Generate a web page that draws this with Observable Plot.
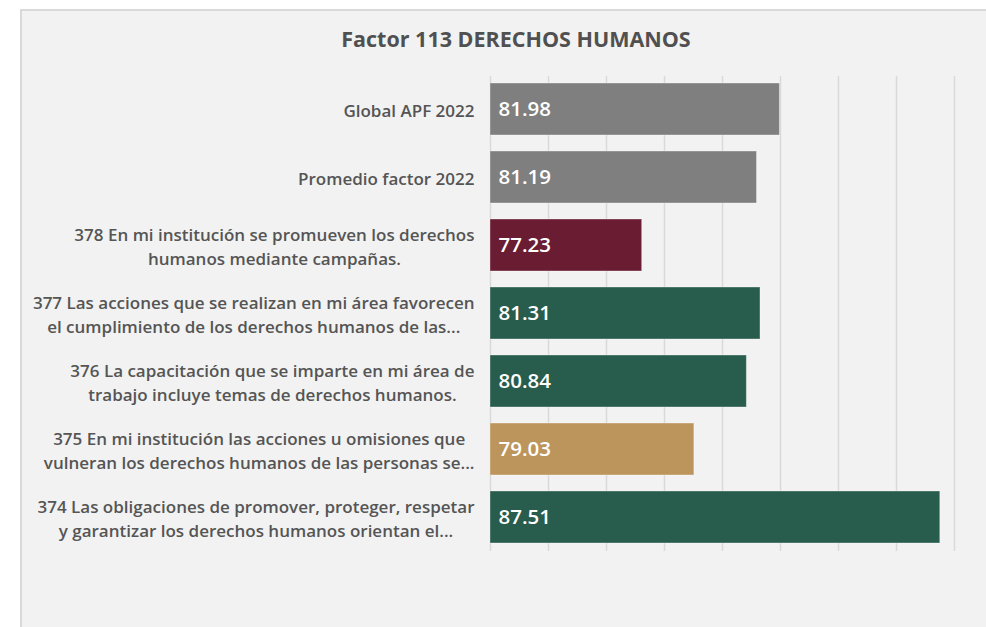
<!DOCTYPE html>
<html>
<head>
<meta charset="utf-8">
<script src="https://cdn.jsdelivr.net/npm/d3@7"></script>
<script src="https://cdn.jsdelivr.net/npm/@observablehq/plot@0.6"></script>
<style>
  html, body { margin: 0; padding: 0; background: #ffffff; width: 986px; height: 627px; overflow: hidden; }
  #panel { position: absolute; left: 20px; top: 9px; right: 0; bottom: 0; background: #f2f2f2;
           border-top: 2px solid #d9d9d9; border-left: 2px solid #d9d9d9; }
  #title { position: absolute; left: 0; width: 1032px; top: 23px; text-align: center;
           font-family: "Open Sans", sans-serif; font-weight: 700; font-size: 21.5px; color: #505050;
           line-height: 32px; }
  #chart { position: absolute; left: 0; top: 0; }
</style>
</head>
<body>
<div id="panel"></div>
<div id="title">Factor 113 DERECHOS HUMANOS</div>
<div id="chart"></div>
<script>
const categories = [
  "Global APF 2022",
  "Promedio factor 2022",
  "378 En mi institución se promueven los derechos\nhumanos mediante campañas.",
  "377 Las acciones que se realizan en mi área favorecen\nel cumplimiento de los derechos humanos de las...",
  "376 La capacitación que se imparte en mi área de\ntrabajo incluye temas de derechos humanos.",
  "375 En mi institución las acciones u omisiones que\nvulneran los derechos humanos de las personas se...",
  "374 Las obligaciones de promover, proteger, respetar\ny garantizar los derechos humanos orientan el..."
];
const values = [81.98, 81.19, 77.23, 81.31, 80.84, 79.03, 87.51];
const barColors = ["#7f7f7f", "#7f7f7f", "#691c32", "#285c4d", "#285c4d", "#bc955c", "#285c4d"];
const xDomain = [72, 88];
const xTicks = [72, 74, 76, 78, 80, 82, 84, 86, 88];

const data = categories.map((c, i) => ({label: c, value: values[i], color: barColors[i]}));

const chart = Plot.plot({
  width: 986,
  height: 627,
  marginLeft: 490,
  marginRight: 32,
  marginTop: 76,
  marginBottom: 76,
  style: {fontFamily: "Open Sans, sans-serif", fontSize: "17px", color: "#595959", background: "transparent", overflow: "visible"},
  x: {domain: xDomain, axis: null},
  y: {domain: categories, paddingInner: 0.235, paddingOuter: 0.11, label: null},
  marks: [
    Plot.ruleX(xTicks, {stroke: "#d9d9d9", strokeWidth: 1.5}),
    Plot.barX(data, {x1: () => xDomain[0], x2: "value", y: "label", fill: "color", stroke: "#ffffff", strokeOpacity: 0.35, strokeWidth: 1}),
    Plot.text(data, {y: "label", text: d => d.value.toFixed(2), frameAnchor: "left", dx: 8, textAnchor: "start",
                     fill: "white", fontSize: 20.5, fontWeight: 600}),
    Plot.axisY({tickSize: 0, tickPadding: 16, label: null, lineHeight: 1.38, fill: "#555555", fontSize: 17, fontWeight: 600})
  ]
});
document.getElementById("chart").appendChild(chart);

// center multi-line labels within their block, block right-aligned at the axis
chart.querySelectorAll('g[aria-label="y-axis tick label"] text').forEach(t => {
  const spans = t.querySelectorAll("tspan");
  if (spans.length > 1) {
    let w = 0;
    spans.forEach(s => { w = Math.max(w, s.getComputedTextLength()); });
    t.setAttribute("text-anchor", "middle");
    spans.forEach(s => s.setAttribute("x", -w / 2));
  }
});
</script>
</body>
</html>
